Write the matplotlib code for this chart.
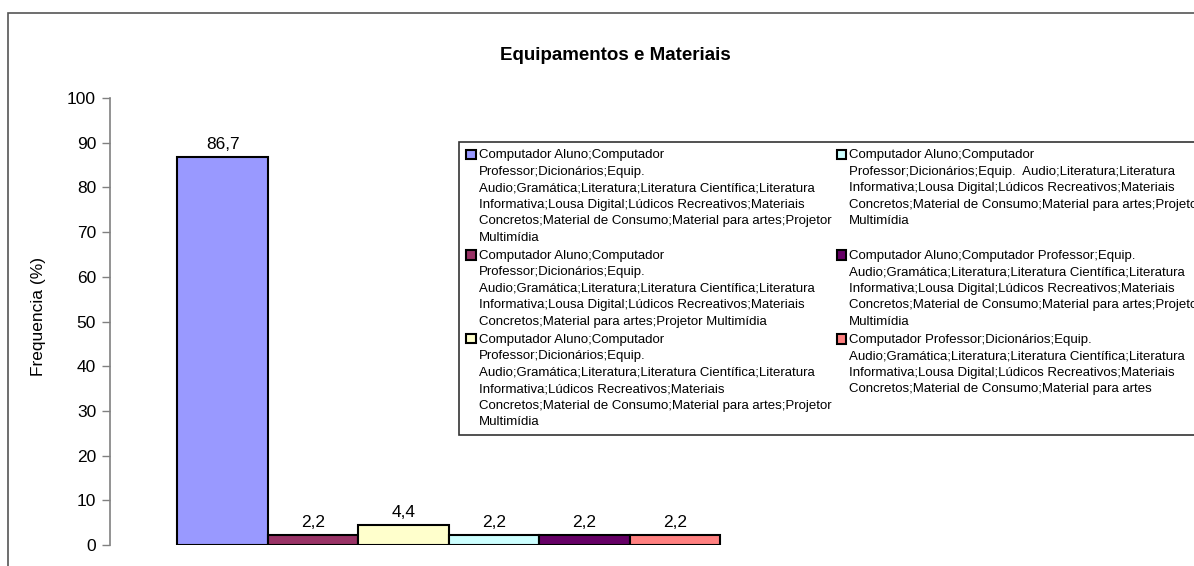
import matplotlib
matplotlib.use("Agg")
import matplotlib.pyplot as plt
from matplotlib.patches import Rectangle
from matplotlib.container import BarContainer
from matplotlib.legend_handler import HandlerBase

plt.rcParams['font.family'] = ['Liberation Sans', 'DejaVu Sans']

# ---- data ----
title = "Equipamentos e Materiais"
ylabel = "Frequencia (%)"
series_labels = [
    "Computador Aluno;Computador\nProfessor;Dicionários;Equip.\nAudio;Gramática;Literatura;Literatura Científica;Literatura\nInformativa;Lousa Digital;Lúdicos Recreativos;Materiais\nConcretos;Material de Consumo;Material para artes;Projetor\nMultimídia",
    "Computador Aluno;Computador\nProfessor;Dicionários;Equip.\nAudio;Gramática;Literatura;Literatura Científica;Literatura\nInformativa;Lousa Digital;Lúdicos Recreativos;Materiais\nConcretos;Material para artes;Projetor Multimídia",
    "Computador Aluno;Computador\nProfessor;Dicionários;Equip.\nAudio;Gramática;Literatura;Literatura Científica;Literatura\nInformativa;Lúdicos Recreativos;Materiais\nConcretos;Material de Consumo;Material para artes;Projetor\nMultimídia",
    "Computador Aluno;Computador\nProfessor;Dicionários;Equip.  Audio;Literatura;Literatura\nInformativa;Lousa Digital;Lúdicos Recreativos;Materiais\nConcretos;Material de Consumo;Material para artes;Projetor\nMultimídia\n ",
    "Computador Aluno;Computador Professor;Equip.\nAudio;Gramática;Literatura;Literatura Científica;Literatura\nInformativa;Lousa Digital;Lúdicos Recreativos;Materiais\nConcretos;Material de Consumo;Material para artes;Projetor\nMultimídia",
    "Computador Professor;Dicionários;Equip.\nAudio;Gramática;Literatura;Literatura Científica;Literatura\nInformativa;Lousa Digital;Lúdicos Recreativos;Materiais\nConcretos;Material de Consumo;Material para artes",
]
values = [86.7, 2.2, 4.4, 2.2, 2.2, 2.2]
colors = ["#9999FF", "#993366", "#FFFFCC", "#CCFFFF", "#660066", "#FF8080"]
yticks = list(range(0, 101, 10))

W, H = 1194, 566
LEG_FS = 9.5
LEG_LS = 1.5

fig = plt.figure(figsize=(W / 100, H / 100), dpi=100)
fig.patch.set_facecolor("white")

# outer chart frame (clipped on right/bottom like the reference)
fig.add_artist(Rectangle((8 / W, -0.2), 2.0, (H - 13) / H + 0.2,
                         transform=fig.transFigure, fill=False,
                         edgecolor="#555555", lw=1.2))

ax_left, ax_right, ax_top, ax_bot = 110, 787, 98, 545
ax = fig.add_axes([ax_left / W, (H - ax_bot) / H,
                   (ax_right - ax_left) / W, (ax_bot - ax_top) / H])

containers = []
for i, (v, c, lab) in enumerate(zip(values, colors, series_labels)):
    bc = ax.bar(i, v, width=1.0, color=c, edgecolor="black", linewidth=1.5,
                label=lab, zorder=3)
    containers.append(bc)
    ax.bar_label(bc, labels=[f"{v:.1f}".replace(".", ",")], padding=4,
                 fontsize=12.5, color="black")

n = len(values)
ax.set_xlim(-1.246, n - 0.5 + 0.74)
ax.set_ylim(0, 100)
ax.set_yticks(yticks)
ax.set_xticks([])
ax.tick_params(axis="y", direction="out", length=6, width=1, color="#808080",
               labelsize=12.5, labelcolor="black", pad=4)
for s in ["top", "right", "bottom"]:
    ax.spines[s].set_visible(False)
ax.spines["left"].set_color("#808080")
ax.spines["left"].set_linewidth(1.2)
ax.patch.set_alpha(0)

fig.text(38 / W, 1 - 317 / H, ylabel, rotation=90, ha="center", va="center",
         fontsize=12.5)
fig.text(615 / W, 1 - 55 / H, title, ha="center", va="center",
         fontsize=13.5, fontweight="bold")


class TopSquareHandler(HandlerBase):
    def legend_artist(self, legend, orig_handle, fontsize, handlebox):
        nlines = orig_handle.get_label().count("\n") + 1
        pitch = fontsize * (LEG_LS * 0.71 + 0.212)
        shift = (nlines - 1) / 2.0 * pitch
        size = fontsize * 0.72
        x0 = handlebox.xdescent
        y0 = -handlebox.ydescent + (handlebox.height - size) / 2.0 + shift
        face = orig_handle.patches[0].get_facecolor()
        r = Rectangle((x0, y0), size, size, facecolor=face,
                      edgecolor="black", lw=1.5,
                      transform=handlebox.get_transform())
        handlebox.add_artist(r)
        return r


leg = fig.legend(handles=containers, labels=series_labels, ncol=2,
                 loc="upper left",
                 bbox_to_anchor=(459 / W, 1 - 142 / H),
                 bbox_transform=fig.transFigure,
                 fontsize=LEG_FS, frameon=True, fancybox=False,
                 edgecolor="#333333", framealpha=1, borderpad=0.55,
                 handlelength=0.75, handleheight=0.75, handletextpad=0.2,
                 labelspacing=0.45, columnspacing=0.4, borderaxespad=0,
                 handler_map={BarContainer: TopSquareHandler()})
leg.get_frame().set_linewidth(1.2)
for t in leg.get_texts():
    t.set_linespacing(LEG_LS)

fig.savefig("out.png", dpi=100)
